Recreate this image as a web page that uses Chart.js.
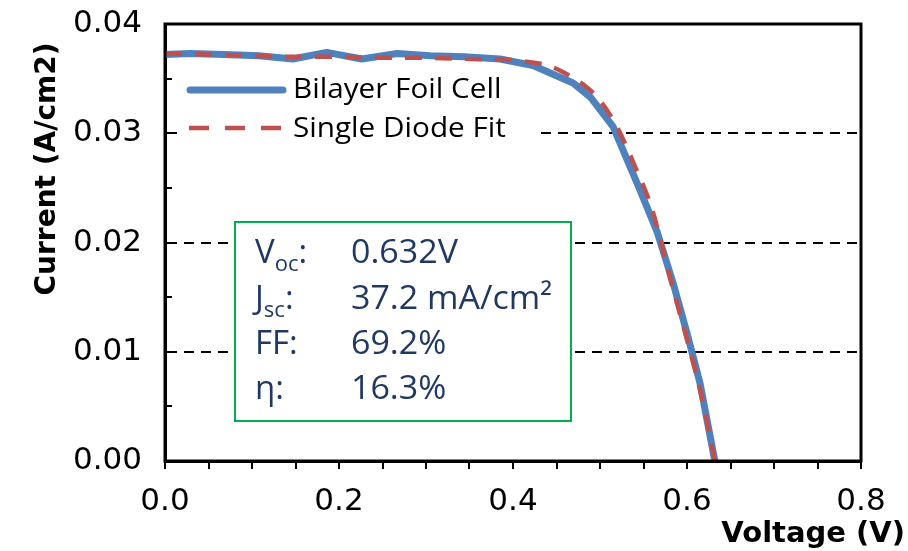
<!DOCTYPE html>
<html><head><meta charset="utf-8">
<script src="https://cdn.jsdelivr.net/npm/chart.js@4.4.1/dist/chart.umd.min.js"></script>
<style>html,body{margin:0;padding:0;background:#fff}canvas{display:block}</style>
</head><body>
<canvas id="c" width="908" height="551"></canvas>
<script>
// ---- data ----
const cellVoltage = [0, 0.029, 0.068, 0.108, 0.147, 0.186, 0.226, 0.267, 0.305, 0.344, 0.385, 0.423, 0.469, 0.489, 0.515, 0.546, 0.566, 0.584, 0.600, 0.615, 0.632];
const cellCurrent = [0.0372, 0.0373, 0.0372, 0.0371, 0.0368, 0.0374, 0.0368, 0.0373, 0.0371, 0.0370, 0.0368, 0.0362, 0.0346, 0.0333, 0.0306, 0.0248, 0.0209, 0.0163, 0.0117, 0.0071, 0.0];
const fitVoltage = [0, 0.05, 0.10, 0.15, 0.20, 0.25, 0.30, 0.35, 0.40, 0.42, 0.44, 0.46, 0.48, 0.50, 0.52, 0.54, 0.56, 0.58, 0.60, 0.615, 0.632];
const fitCurrent = [0.0373, 0.0372, 0.0371, 0.0370, 0.0370, 0.0369, 0.0369, 0.0368, 0.0367, 0.0365, 0.0362, 0.0355, 0.0345, 0.0330, 0.0305, 0.0270, 0.0230, 0.0169, 0.0111, 0.0065, 0.0];
const seriesNames = ['Bilayer Foil Cell', 'Single Diode Fit'];
const xTickLabels = ['0.0', '0.2', '0.4', '0.6', '0.8'];
const yTickLabels = ['0.00', '0.01', '0.02', '0.03', '0.04'];
const xTitle = 'Voltage (V)';
const yTitle = 'Current (A/cm2)';
const statNames = ['V', 'J', 'FF', 'η'];
const statSubs = ['oc', 'sc', '', ''];
const statValues = ['0.632V', '37.2 mA/cm²', '69.2%', '16.3%'];

const BLUE = '#4F81BD', RED = '#C0504D', NAVY = '#1F3864', GREEN = '#00B050';

function pts(xs, ys) { return xs.map((v, i) => ({x: v, y: ys[i]})); }
function near(v, step) { const k = v / step; return Math.abs(k - Math.round(k)) < 1e-6 ? Math.round(k) : -1; }

const deco = {
  id: 'deco',
  beforeDatasetsDraw(chart) {
    const {ctx, chartArea: a, scales: {y}} = chart;
    ctx.save();
    // inside y tick marks
    ctx.strokeStyle = '#000'; ctx.lineWidth = 2;
    y.ticks.forEach(t => {
      const py = Math.round(y.getPixelForValue(t.value));
      ctx.beginPath(); ctx.moveTo(a.left, py); ctx.lineTo(a.left + 7, py); ctx.stroke();
    });
    // legend
    ctx.fillStyle = '#fff'; ctx.fillRect(178, 68, 362, 84);
    ctx.lineCap = 'round'; ctx.strokeStyle = BLUE; ctx.lineWidth = 7;
    ctx.beginPath(); ctx.moveTo(190, 90); ctx.lineTo(283, 90); ctx.stroke();
    ctx.lineCap = 'butt'; ctx.strokeStyle = RED; ctx.lineWidth = 4.5; ctx.setLineDash([20, 16]);
    ctx.beginPath(); ctx.moveTo(189, 128); ctx.lineTo(282, 128); ctx.stroke();
    ctx.setLineDash([]);
    ctx.fillStyle = '#000'; ctx.font = '27px "Open Sans"'; ctx.textBaseline = 'alphabetic';
    [[seriesNames[0], 98], [seriesNames[1], 137]].forEach(([t, by]) => {
      ctx.save(); ctx.translate(293, by); ctx.scale(1.1, 1); ctx.fillText(t, 0, 0); ctx.restore();
    });
    // stats box
    ctx.fillStyle = '#fff'; ctx.fillRect(235, 222, 336, 199);
    ctx.strokeStyle = GREEN; ctx.lineWidth = 2; ctx.strokeRect(235, 222, 336, 199);
    const baselines = [263, 309, 354, 399];
    ctx.fillStyle = NAVY;
    statNames.forEach((n, i) => {
      let x = 255; const by = baselines[i];
      ctx.font = '33px "Open Sans"'; ctx.fillText(n, x, by); x += ctx.measureText(n).width;
      if (statSubs[i]) { ctx.font = '22px "Open Sans"'; ctx.fillText(statSubs[i], x, by + 8); x += ctx.measureText(statSubs[i]).width; }
      ctx.font = '33px "Open Sans"'; ctx.fillText(':', x, by);
      ctx.save(); ctx.translate(351, by); ctx.scale(1.03, 1); ctx.fillText(statValues[i], 0, 0); ctx.restore();
    });
    ctx.restore();
  },
  afterDatasetsDraw(chart) {
    const {ctx, chartArea: a} = chart;
    ctx.save();
    ctx.strokeStyle = '#000'; ctx.lineWidth = 3;
    ctx.strokeRect(a.left, a.top, a.right - a.left, a.bottom - a.top);
    ctx.restore();
  },
  afterDraw(chart) {
    const {ctx} = chart;
    ctx.save();
    ctx.fillStyle = '#000'; ctx.textBaseline = 'alphabetic';
    ctx.font = 'bold 28px "DejaVu Sans"';
    ctx.translate(55, 169); ctx.rotate(-Math.PI / 2); ctx.textAlign = 'center';
    ctx.fillText(yTitle, 0, 0);
    ctx.restore();
    ctx.save();
    ctx.fillStyle = '#000'; ctx.textBaseline = 'alphabetic'; ctx.textAlign = 'right';
    ctx.font = 'bold 29px "DejaVu Sans"';
    ctx.fillText(xTitle, 905, 542);
    ctx.restore();
  }
};

new Chart(document.getElementById('c'), {
  type: 'line',
  data: {
    datasets: [
      {label: seriesNames[1], data: pts(fitVoltage, fitCurrent), borderColor: RED, borderWidth: 4.5,
       borderDash: [17, 13], pointRadius: 0, tension: 0.3, cubicInterpolationMode: 'monotone', fill: false, order: 0},
      {label: seriesNames[0], data: pts(cellVoltage, cellCurrent), borderColor: BLUE, borderWidth: 7,
       pointRadius: 0, tension: 0, fill: false, order: 1, borderJoinStyle: 'round'}
    ]
  },
  options: {
    responsive: false, animation: false, devicePixelRatio: 1,
    layout: {padding: {top: 24, right: 47, left: 0, bottom: 0}},
    plugins: {legend: {display: false}, tooltip: {enabled: false}},
    scales: {
      x: {
        type: 'linear', min: 0, max: 0.8,
        afterFit: s => { s.height = 90; s.paddingLeft = 0; s.paddingRight = 0; },
        ticks: {stepSize: 0.05, autoSkip: false, maxRotation: 0, padding: 14, color: '#000',
                font: {family: 'DejaVu Sans', size: 31},
                callback: v => { const k = near(v, 0.2); return k >= 0 ? xTickLabels[k] : ''; }},
        grid: {drawOnChartArea: false, drawTicks: true, tickLength: 8, tickColor: '#000', tickWidth: 2, lineWidth: 2},
        border: {display: true, color: '#000', width: 3}
      },
      y: {
        type: 'linear', min: 0, max: 0.04,
        afterFit: s => { s.width = 165; s.paddingTop = 0; s.paddingBottom = 0; },
        ticks: {stepSize: 0.005, autoSkip: false, padding: 23, color: '#000',
                font: {family: 'DejaVu Sans', size: 31},
                callback: v => { const k = near(v, 0.01); return k >= 0 ? yTickLabels[k] : ''; }},
        grid: {drawTicks: false, lineWidth: 2,
               color: c => { const k = near(c.tick.value, 0.01); return (k >= 1 && k <= 3) ? '#000' : 'rgba(0,0,0,0)'; }},
        border: {display: true, color: '#000', width: 3, dash: [10, 7]}
      }
    }
  },
  plugins: [deco]
});
</script>
</body></html>
